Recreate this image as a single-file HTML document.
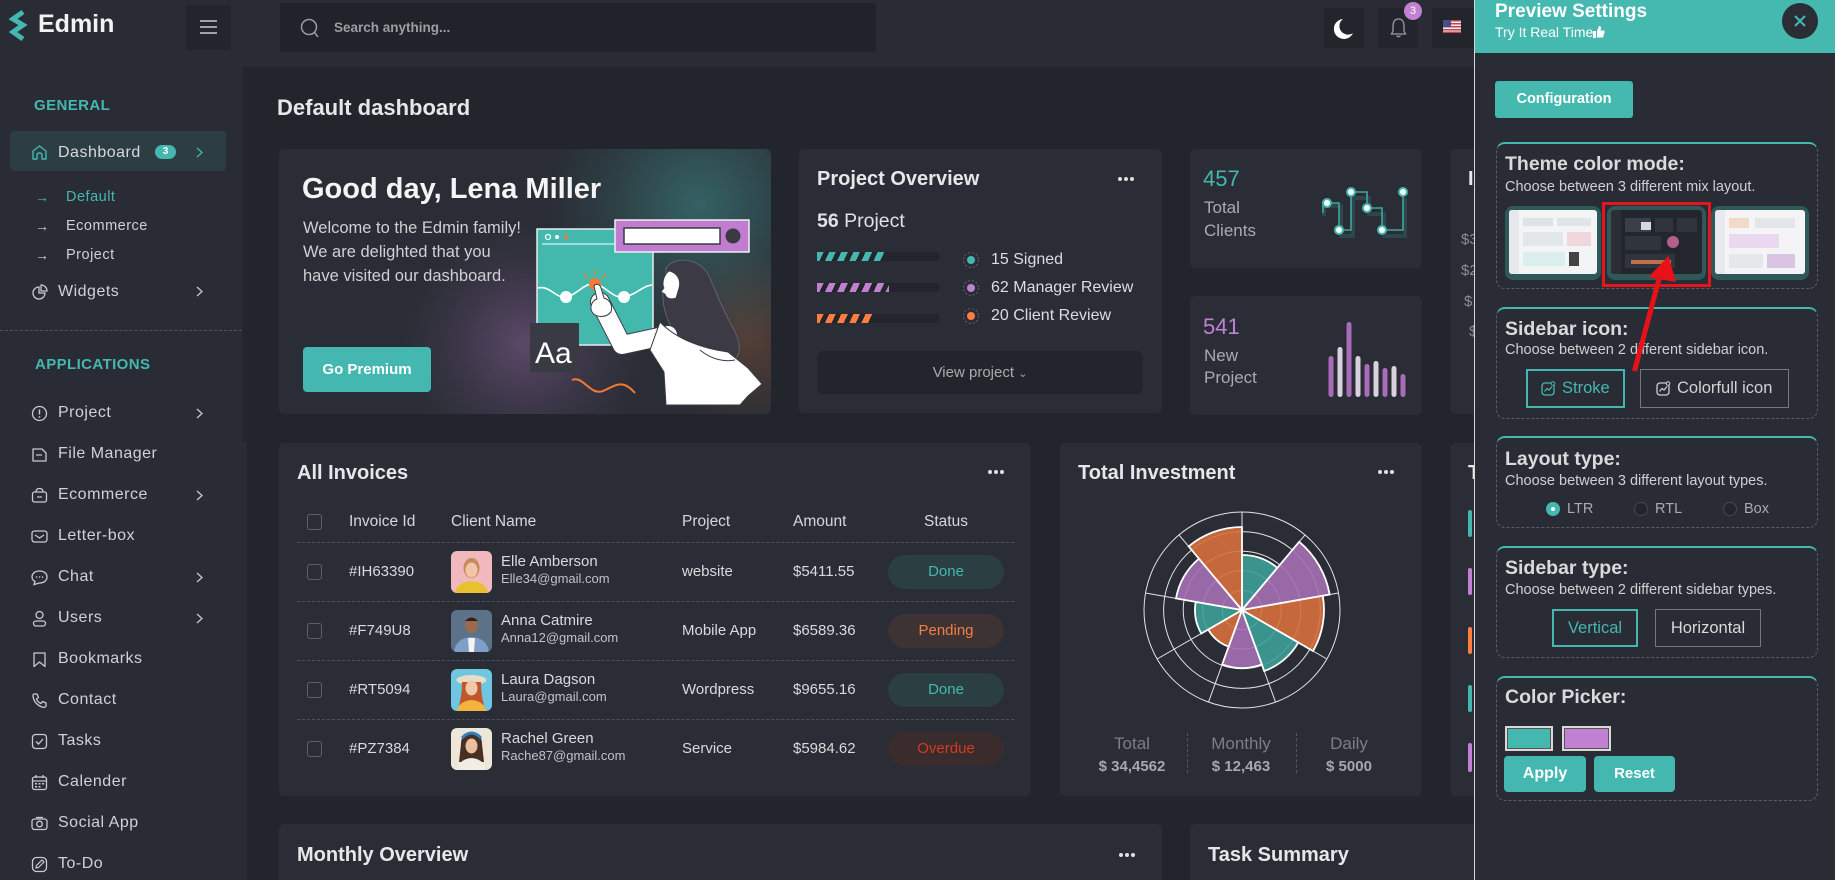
<!DOCTYPE html>
<html style="width:1835px;height:880px;overflow:hidden"><head><meta charset="utf-8">
<style>
*{box-sizing:border-box;margin:0;padding:0}
html,body{width:1835px;height:880px;overflow:hidden}
body{position:relative;background:#22252b;font-family:"Liberation Sans",sans-serif;color:#e2e3e5}
.a{position:absolute}
.card{position:absolute;background:#2a2d35;border-radius:5px}
.t{position:absolute;white-space:nowrap}
.si{position:absolute;left:58px;height:20px;line-height:20px;font-size:16px;letter-spacing:0.5px;color:#d0d1d4;white-space:nowrap}
.ic{position:absolute;left:31px;width:17px;height:17px}
.chev{position:absolute;left:196px;width:7px;height:11px}
.sec{position:absolute;left:1496px;width:322px;border:1px dashed #5b5e65;border-top:2px solid #45b8b0;border-radius:9px}
.st{position:absolute;left:1505px;font-size:19.5px;font-weight:bold;color:#d9dadc;white-space:nowrap;height:24px;line-height:24px}
.ss{position:absolute;left:1505px;font-size:14.5px;color:#cfd0d2;white-space:nowrap;height:18px;line-height:18px}
.th{position:absolute;font-size:15.5px;color:#d6d7d9;height:20px;line-height:20px;white-space:nowrap}
.td{position:absolute;font-size:15px;color:#d9dadc;height:20px;line-height:20px;white-space:nowrap}
.cb{position:absolute;left:307px;width:15px;height:16px;border:1.5px solid #5d6067;border-radius:3px}
.pill{position:absolute;left:888px;width:116px;height:34px;border-radius:17px;text-align:center;line-height:34px;font-size:15px}
.dl{position:absolute;left:297px;width:717px;border-top:1px dashed #4e5158}
.av{position:absolute;left:451px;width:41px;height:42px;border-radius:6px;overflow:hidden}
</style></head><body>

<!-- HEADER -->
<div class="a" style="left:0;top:0;width:1835px;height:67px;background:#292c34"></div>
<svg class="a" style="left:9px;top:10px" width="26" height="32" viewBox="0 0 26 32">
<path d="M14 2 L4 9 L14 15 L4 22 L14 29" fill="none" stroke="#44b8b0" stroke-width="5" stroke-linejoin="miter"/>
</svg>
<div class="t" style="left:38px;top:8px;font-size:25px;font-weight:bold;color:#f2f2f2;line-height:32px">Edmin</div>
<div class="a" style="left:186px;top:5px;width:45px;height:45px;background:#22252b"></div>
<svg class="a" style="left:200px;top:19px" width="17" height="16"><g stroke="#c8c9cc" stroke-width="1.6"><line x1="0" y1="2" x2="17" y2="2"/><line x1="0" y1="8" x2="17" y2="8"/><line x1="0" y1="14" x2="17" y2="14"/></g></svg>
<div class="a" style="left:280px;top:3px;width:596px;height:49px;background:#202329"></div>
<svg class="a" style="left:300px;top:18px" width="20" height="22"><circle cx="9" cy="9" r="7.5" fill="none" stroke="#9a9ca1" stroke-width="1.5"/><line x1="14.5" y1="14.5" x2="18" y2="19" stroke="#9a9ca1" stroke-width="1.5"/></svg>
<div class="t" style="left:334px;top:19px;font-size:13.5px;font-weight:bold;color:#9c9ea3;line-height:18px">Search anything...</div>
<div class="a" style="left:1324px;top:8px;width:40px;height:40px;background:#22252b"></div>
<svg class="a" style="left:1334px;top:18px" width="20" height="22"><path d="M9 1 A10 10 0 1 0 19 15 A8 8 0 0 1 9 1 Z" fill="#fff"/></svg>
<div class="a" style="left:1378px;top:8px;width:40px;height:40px;background:#22252b"></div>
<svg class="a" style="left:1390px;top:17px" width="17" height="22"><path d="M8.5 2 C4 2 3 6 3 9 L3 14 L1.5 17 L15.5 17 L14 14 L14 9 C14 6 13 2 8.5 2 Z" fill="none" stroke="#9a9ca1" stroke-width="1.3"/><path d="M6.5 18.5 Q8.5 21 10.5 18.5" fill="none" stroke="#9a9ca1" stroke-width="1.3"/></svg>
<div class="a" style="left:1404px;top:2px;width:18px;height:18px;border-radius:9px;background:#c280d2;color:#fff;font-size:11px;text-align:center;line-height:18px">3</div>
<div class="a" style="left:1432px;top:8px;width:42px;height:40px;background:#22252b"></div>
<svg class="a" style="left:1443px;top:20px" width="18" height="13"><rect width="18" height="13" fill="#eee"/><g fill="#c4444d"><rect y="0" width="18" height="1.5"/><rect y="3" width="18" height="1.5"/><rect y="6" width="18" height="1.5"/><rect y="9" width="18" height="1.5"/><rect y="11.5" width="18" height="1.5"/></g><rect width="8" height="7" fill="#44508a"/></svg>

<!-- SIDEBAR -->
<div class="a" style="left:0;top:67px;width:247px;height:813px;background:#292c34"></div>
<div class="a" style="left:242px;top:67px;width:5px;height:375px;background:#23262c"></div>
<div class="t" style="left:34px;top:97px;font-size:15px;font-weight:bold;color:#44b8b0;letter-spacing:0.4px;line-height:18px">GENERAL</div>
<div class="a" style="left:10px;top:131px;width:216px;height:40px;background:#2c3e43;border-radius:4px"></div>
<svg class="ic" style="top:144px" viewBox="0 0 17 17"><path d="M2 15 L2 7 L8.5 2 L15 7 L15 15 L11 15 L11 10 Q8.5 8 6 10 L6 15 Z" fill="none" stroke="#44b8b0" stroke-width="1.4" stroke-linejoin="round"/></svg>
<div class="si" style="top:143px;color:#d8d9dc">Dashboard</div>
<div class="a" style="left:155px;top:145px;width:21px;height:14px;border-radius:7px;background:#44b8b0;color:#fff;font-size:10px;font-weight:bold;text-align:center;line-height:14px">3</div>
<svg class="chev" style="top:147px" viewBox="0 0 7 11"><polyline points="1,1 6,5.5 1,10" fill="none" stroke="#44b8b0" stroke-width="1.3"/></svg>
<div class="t" style="left:35px;top:187px;font-size:14px;color:#44b8b0;line-height:20px">→</div>
<div class="t" style="left:66px;top:187px;font-size:14.5px;color:#44b8b0;letter-spacing:0.5px;line-height:20px">Default</div>
<div class="t" style="left:35px;top:216px;font-size:14px;color:#d0d1d4;line-height:20px">→</div>
<div class="t" style="left:66px;top:216px;font-size:14.5px;color:#d0d1d4;letter-spacing:0.5px;line-height:20px">Ecommerce</div>
<div class="t" style="left:35px;top:245px;font-size:14px;color:#d0d1d4;line-height:20px">→</div>
<div class="t" style="left:66px;top:245px;font-size:14.5px;color:#d0d1d4;letter-spacing:0.5px;line-height:20px">Project</div>
<svg class="ic" style="top:284px" viewBox="0 0 17 17"><path d="M8 3 A6 6 0 1 0 14 9 L8 9 Z" fill="none" stroke="#c9cacd" stroke-width="1.3"/><path d="M10 1 A6 6 0 0 1 16 7 L10 7 Z" fill="none" stroke="#c9cacd" stroke-width="1.3"/></svg>
<div class="si" style="top:282px">Widgets</div>
<svg class="chev" style="top:286px" viewBox="0 0 7 11"><polyline points="1,1 6,5.5 1,10" fill="none" stroke="#c9cacd" stroke-width="1.3"/></svg>
<div class="a" style="left:0;top:330px;width:242px;border-top:1px dashed #50535a"></div>
<div class="t" style="left:35px;top:356px;font-size:15px;font-weight:bold;color:#44b8b0;letter-spacing:0.4px;line-height:18px">APPLICATIONS</div>

<svg class="ic" style="top:405px" viewBox="0 0 17 17"><circle cx="8.5" cy="8.5" r="7" fill="none" stroke="#c9cacd" stroke-width="1.3"/><line x1="8.5" y1="4.5" x2="8.5" y2="9.5" stroke="#c9cacd" stroke-width="1.4"/><circle cx="8.5" cy="12" r="0.9" fill="#c9cacd"/></svg>
<div class="si" style="top:403px">Project</div>
<svg class="chev" style="top:408px" viewBox="0 0 7 11"><polyline points="1,1 6,5.5 1,10" fill="none" stroke="#c9cacd" stroke-width="1.3"/></svg>

<svg class="ic" style="top:446px" viewBox="0 0 17 17"><path d="M2 3 L11 3 L15 7 L15 15 L2 15 Z" fill="none" stroke="#c9cacd" stroke-width="1.3" stroke-linejoin="round"/><line x1="5" y1="9" x2="11" y2="9" stroke="#c9cacd" stroke-width="1.2"/></svg>
<div class="si" style="top:444px">File Manager</div>

<svg class="ic" style="top:487px" viewBox="0 0 17 17"><rect x="1.5" y="5" width="14" height="10" rx="2" fill="none" stroke="#c9cacd" stroke-width="1.3"/><path d="M5 5 Q5 1.5 8.5 1.5 Q12 1.5 12 5" fill="none" stroke="#c9cacd" stroke-width="1.3"/><line x1="6" y1="10" x2="11" y2="10" stroke="#c9cacd" stroke-width="1.2"/></svg>
<div class="si" style="top:485px">Ecommerce</div>
<svg class="chev" style="top:490px" viewBox="0 0 7 11"><polyline points="1,1 6,5.5 1,10" fill="none" stroke="#c9cacd" stroke-width="1.3"/></svg>

<svg class="ic" style="top:528px" viewBox="0 0 17 17"><rect x="1" y="3" width="15" height="11" rx="2.5" fill="none" stroke="#c9cacd" stroke-width="1.3"/><polyline points="4,7 8.5,10 13,7" fill="none" stroke="#c9cacd" stroke-width="1.2"/></svg>
<div class="si" style="top:526px">Letter-box</div>

<svg class="ic" style="top:569px" viewBox="0 0 17 17"><path d="M8.5 2 C13 2 16 4.5 16 8 C16 11.5 13 14 8.5 14 L3 15.5 L4 12.5 C2 11.5 1 10 1 8 C1 4.5 4 2 8.5 2 Z" fill="none" stroke="#c9cacd" stroke-width="1.3"/><g fill="#c9cacd"><circle cx="5.5" cy="8" r="0.8"/><circle cx="8.5" cy="8" r="0.8"/><circle cx="11.5" cy="8" r="0.8"/></g></svg>
<div class="si" style="top:567px">Chat</div>
<svg class="chev" style="top:572px" viewBox="0 0 7 11"><polyline points="1,1 6,5.5 1,10" fill="none" stroke="#c9cacd" stroke-width="1.3"/></svg>

<svg class="ic" style="top:610px" viewBox="0 0 17 17"><circle cx="8.5" cy="5" r="3.5" fill="none" stroke="#c9cacd" stroke-width="1.3"/><rect x="2.5" y="11" width="12" height="5" rx="2.5" fill="none" stroke="#c9cacd" stroke-width="1.3"/></svg>
<div class="si" style="top:608px">Users</div>
<svg class="chev" style="top:613px" viewBox="0 0 7 11"><polyline points="1,1 6,5.5 1,10" fill="none" stroke="#c9cacd" stroke-width="1.3"/></svg>

<svg class="ic" style="top:651px" viewBox="0 0 17 17"><path d="M3 2 L14 2 L14 15.5 L8.5 11 L3 15.5 Z" fill="none" stroke="#c9cacd" stroke-width="1.3" stroke-linejoin="round"/></svg>
<div class="si" style="top:649px">Bookmarks</div>

<svg class="ic" style="top:692px" viewBox="0 0 17 17"><path d="M3 2 L6 2 L7.5 5.5 L5.5 7 Q7 10.5 10 11.5 L11.5 9.5 L15 11 L15 14 Q14 16 11 15 Q3 12 2 4 Q2 2 3 2 Z" fill="none" stroke="#c9cacd" stroke-width="1.3" stroke-linejoin="round"/></svg>
<div class="si" style="top:690px">Contact</div>

<svg class="ic" style="top:733px" viewBox="0 0 17 17"><rect x="1.5" y="1.5" width="14" height="14" rx="3" fill="none" stroke="#c9cacd" stroke-width="1.3"/><polyline points="5,8.5 7.5,11 12,6" fill="none" stroke="#c9cacd" stroke-width="1.3"/></svg>
<div class="si" style="top:731px">Tasks</div>

<svg class="ic" style="top:774px" viewBox="0 0 17 17"><rect x="1.5" y="3" width="14" height="12.5" rx="2" fill="none" stroke="#c9cacd" stroke-width="1.3"/><line x1="1.5" y1="7" x2="15.5" y2="7" stroke="#c9cacd" stroke-width="1.2"/><line x1="5" y1="1" x2="5" y2="4" stroke="#c9cacd" stroke-width="1.3"/><line x1="12" y1="1" x2="12" y2="4" stroke="#c9cacd" stroke-width="1.3"/><g fill="#c9cacd"><rect x="4" y="9" width="2" height="1.5"/><rect x="7.5" y="9" width="2" height="1.5"/><rect x="11" y="9" width="2" height="1.5"/><rect x="4" y="12" width="2" height="1.5"/><rect x="7.5" y="12" width="2" height="1.5"/></g></svg>
<div class="si" style="top:772px">Calender</div>

<svg class="ic" style="top:815px" viewBox="0 0 17 17"><rect x="1" y="4" width="15" height="10.5" rx="2.5" fill="none" stroke="#c9cacd" stroke-width="1.3"/><circle cx="8.5" cy="9" r="2.8" fill="none" stroke="#c9cacd" stroke-width="1.3"/><line x1="5" y1="2.5" x2="12" y2="2.5" stroke="#c9cacd" stroke-width="1.3"/></svg>
<div class="si" style="top:813px">Social App</div>

<svg class="ic" style="top:856px" viewBox="0 0 17 17"><rect x="1.5" y="1.5" width="14" height="14" rx="4" fill="none" stroke="#c9cacd" stroke-width="1.3"/><path d="M5 12 L5.5 9.5 L11 4 L13 6 L7.5 11.5 Z" fill="none" stroke="#c9cacd" stroke-width="1.2"/></svg>
<div class="si" style="top:854px">To-Do</div>

<!-- CONTENT -->
<div class="t" style="left:277px;top:95px;font-size:22px;font-weight:bold;color:#e6e7e9;line-height:26px">Default dashboard</div>

<!-- Welcome card -->
<div class="card" style="left:279px;top:149px;width:492px;height:265px;overflow:hidden;background:
radial-gradient(circle at 420px 55px, rgba(68,184,176,0.38) 0px, rgba(68,184,176,0.12) 90px, rgba(68,184,176,0) 150px),
radial-gradient(circle at 245px 195px, rgba(192,128,210,0.32) 0px, rgba(192,128,210,0.1) 70px, rgba(192,128,210,0) 120px),
radial-gradient(circle at 470px 190px, rgba(230,120,60,0.22) 0px, rgba(230,120,60,0) 90px),
#2a2d35"></div>
<div class="t" style="left:302px;top:171px;font-size:29px;font-weight:bold;color:#f4f4f4;line-height:36px">Good day, Lena Miller</div>
<div class="t" style="left:303px;top:216px;font-size:16.5px;color:#cfd0d3;line-height:24px">Welcome to the Edmin family!<br>We are delighted that you<br>have visited our dashboard.</div>
<div class="a" style="left:303px;top:347px;width:128px;height:45px;background:#44b8b0;border-radius:4px;color:#fff;font-size:15px;font-weight:bold;text-align:center;line-height:45px">Go Premium</div>

<!-- Project overview -->
<div class="card" style="left:799px;top:149px;width:363px;height:264px"></div>
<div class="t" style="left:817px;top:167px;font-size:20px;font-weight:bold;color:#e6e7e9;line-height:24px">Project Overview</div>
<svg class="a" style="left:1117px;top:176px" width="18" height="6"><g fill="#e0e0e0"><circle cx="3" cy="3" r="2"/><circle cx="9" cy="3" r="2"/><circle cx="15" cy="3" r="2"/></g></svg>
<div class="t" style="left:817px;top:209px;font-size:19.5px;color:#e0e1e3;line-height:24px"><b>56</b> Project</div>
<div class="a" style="left:817px;top:252px;width:122px;height:9px;background:#22252b;border-radius:2px"></div>
<div class="a" style="left:817px;top:252px;width:67px;height:9px;background:repeating-linear-gradient(115deg,#44b8b0 0px,#44b8b0 6px,transparent 6px,transparent 11px)"></div>
<div class="a" style="left:817px;top:283px;width:122px;height:9px;background:#22252b;border-radius:2px"></div>
<div class="a" style="left:817px;top:283px;width:72px;height:9px;background:repeating-linear-gradient(115deg,#c280d2 0px,#c280d2 6px,transparent 6px,transparent 11px)"></div>
<div class="a" style="left:817px;top:314px;width:122px;height:9px;background:#22252b;border-radius:2px"></div>
<div class="a" style="left:817px;top:314px;width:55px;height:9px;background:repeating-linear-gradient(115deg,#fd7e40 0px,#fd7e40 6px,transparent 6px,transparent 11px)"></div>
<svg class="a" style="left:962px;top:251px" width="18" height="74">
<circle cx="9" cy="9" r="7.5" fill="none" stroke="#5e6168" stroke-dasharray="2 2"/><circle cx="9" cy="9" r="4" fill="#44b8b0"/>
<circle cx="9" cy="37" r="7.5" fill="none" stroke="#5e6168" stroke-dasharray="2 2"/><circle cx="9" cy="37" r="4" fill="#c280d2"/>
<circle cx="9" cy="65" r="7.5" fill="none" stroke="#5e6168" stroke-dasharray="2 2"/><circle cx="9" cy="65" r="4" fill="#fd7e40"/>
</svg>
<div class="t" style="left:991px;top:250px;font-size:16px;color:#dcdde0;line-height:20px">15 Signed</div>
<div class="t" style="left:991px;top:278px;font-size:16px;color:#dcdde0;line-height:20px">62 Manager Review</div>
<div class="t" style="left:991px;top:306px;font-size:16px;color:#dcdde0;line-height:20px">20 Client Review</div>
<div class="a" style="left:817px;top:351px;width:326px;height:43px;background:#22252b;border-radius:6px;text-align:center;line-height:43px;font-size:15px;color:#a9abaf">View project <span style="font-size:11px">&#8964;</span></div>

<!-- Total clients -->
<div class="card" style="left:1190px;top:149px;width:232px;height:119px"></div>
<div class="t" style="left:1203px;top:166px;font-size:22px;color:#44b8b0;line-height:26px">457</div>
<div class="t" style="left:1204px;top:197px;font-size:17px;color:#a9abaf;line-height:22px">Total</div>
<div class="t" style="left:1204px;top:220px;font-size:17px;color:#a9abaf;line-height:22px">Clients</div>
<div class="card" style="left:1190px;top:296px;width:232px;height:119px"></div>
<div class="t" style="left:1203px;top:314px;font-size:22px;color:#c280d2;line-height:26px">541</div>
<div class="t" style="left:1204px;top:345px;font-size:17px;color:#a9abaf;line-height:22px">New</div>
<div class="t" style="left:1204px;top:367px;font-size:17px;color:#a9abaf;line-height:22px">Project</div>

<!-- partial right cards -->
<div class="card" style="left:1450px;top:149px;width:200px;height:265px"></div>
<div class="t" style="left:1468px;top:167px;font-size:20px;font-weight:bold;color:#e6e7e9;line-height:24px">Income</div>
<div class="t" style="left:1461px;top:231px;font-size:15px;color:#8c8e93;line-height:18px">$3</div>
<div class="t" style="left:1461px;top:262px;font-size:15px;color:#8c8e93;line-height:18px">$2</div>
<div class="t" style="left:1464px;top:293px;font-size:15px;color:#8c8e93;line-height:18px">$1</div>
<div class="t" style="left:1469px;top:323px;font-size:15px;color:#8c8e93;line-height:18px">$</div>

<!-- Invoices -->
<div class="card" style="left:279px;top:443px;width:752px;height:353px"></div>
<div class="t" style="left:297px;top:461px;font-size:20px;font-weight:bold;color:#e6e7e9;line-height:24px">All Invoices</div>
<svg class="a" style="left:987px;top:469px" width="18" height="6"><g fill="#e0e0e0"><circle cx="3" cy="3" r="2"/><circle cx="9" cy="3" r="2"/><circle cx="15" cy="3" r="2"/></g></svg>
<div class="cb" style="top:514px"></div>
<div class="th" style="left:349px;top:512px">Invoice Id</div>
<div class="th" style="left:451px;top:512px">Client Name</div>
<div class="th" style="left:682px;top:512px">Project</div>
<div class="th" style="left:793px;top:512px">Amount</div>
<div class="th" style="left:888px;top:512px;width:116px;text-align:center">Status</div>
<div class="dl" style="top:542px"></div>
<div class="dl" style="top:601px"></div>
<div class="dl" style="top:660px"></div>
<div class="dl" style="top:719px"></div>

<div class="cb" style="top:564px"></div>
<div class="td" style="left:349px;top:562px">#IH63390</div>
<div class="av" style="top:551px;background:#f1b8bd"><svg width="41" height="42"><ellipse cx="20.5" cy="17" rx="8" ry="10" fill="#c98a5a"/><ellipse cx="20.5" cy="19" rx="6" ry="7.5" fill="#f0c6a8"/><path d="M4 42 Q6 31 20.5 30 Q35 31 37 42 Z" fill="#e9c12f"/></svg></div>
<div class="td" style="left:501px;top:552px">Elle Amberson</div>
<div class="td" style="left:501px;top:569px;font-size:13px;color:#c2c3c6">Elle34@gmail.com</div>
<div class="td" style="left:682px;top:562px">website</div>
<div class="td" style="left:793px;top:562px">$5411.55</div>
<div class="pill" style="top:555px;background:#2b3e41;color:#44b8b0">Done</div>

<div class="cb" style="top:623px"></div>
<div class="td" style="left:349px;top:621px">#F749U8</div>
<div class="av" style="top:610px;background:#5b7289"><svg width="41" height="42"><ellipse cx="20.5" cy="15" rx="6.5" ry="8" fill="#9a6a4e"/><path d="M14 11 Q20.5 4 27 11" fill="#2a2220"/><path d="M3 42 Q5 28 20.5 27 Q36 28 38 42 Z" fill="#7f9fc9"/><path d="M17 28 L24 28 L23 42 L18 42 Z" fill="#f4f4f4"/></svg></div>
<div class="td" style="left:501px;top:611px">Anna Catmire</div>
<div class="td" style="left:501px;top:628px;font-size:13px;color:#c2c3c6">Anna12@gmail.com</div>
<div class="td" style="left:682px;top:621px">Mobile App</div>
<div class="td" style="left:793px;top:621px">$6589.36</div>
<div class="pill" style="top:614px;background:#3d3334;color:#f47e44">Pending</div>

<div class="cb" style="top:682px"></div>
<div class="td" style="left:349px;top:680px">#RT5094</div>
<div class="av" style="top:669px;background:#6fc6e0"><svg width="41" height="42"><ellipse cx="20.5" cy="11" rx="15" ry="5" fill="#e9dcc4"/><path d="M11 13 Q11 26 8 36 L33 36 Q30 26 30 13 Z" fill="#c0562c"/><ellipse cx="20.5" cy="19" rx="6" ry="7.5" fill="#f1c7a9"/><path d="M6 42 Q8 32 20.5 31 Q33 32 35 42 Z" fill="#f3b33d"/></svg></div>
<div class="td" style="left:501px;top:670px">Laura Dagson</div>
<div class="td" style="left:501px;top:687px;font-size:13px;color:#c2c3c6">Laura@gmail.com</div>
<div class="td" style="left:682px;top:680px">Wordpress</div>
<div class="td" style="left:793px;top:680px">$9655.16</div>
<div class="pill" style="top:673px;background:#2b3e41;color:#44b8b0">Done</div>

<div class="cb" style="top:741px"></div>
<div class="td" style="left:349px;top:739px">#PZ7384</div>
<div class="av" style="top:728px;background:#efe6da"><svg width="41" height="42"><path d="M10 16 Q10 5 20.5 5 Q31 5 31 16 L33 34 L8 34 Z" fill="#4a3022"/><path d="M11 10 Q20.5 0 30 10" fill="none" stroke="#2f7fc3" stroke-width="3"/><ellipse cx="20.5" cy="18" rx="6" ry="7.5" fill="#e9bfa0"/><path d="M6 42 Q8 31 20.5 30 Q33 31 35 42 Z" fill="#f2ede4"/></svg></div>
<div class="td" style="left:501px;top:729px">Rachel Green</div>
<div class="td" style="left:501px;top:746px;font-size:13px;color:#c2c3c6">Rache87@gmail.com</div>
<div class="td" style="left:682px;top:739px">Service</div>
<div class="td" style="left:793px;top:739px">$5984.62</div>
<div class="pill" style="top:732px;background:#3a2b2d;color:#d13b1e">Overdue</div>

<!-- Total Investment -->
<div class="card" style="left:1060px;top:443px;width:362px;height:353px"></div>
<div class="t" style="left:1078px;top:461px;font-size:20px;font-weight:bold;color:#e6e7e9;line-height:24px">Total Investment</div>
<svg class="a" style="left:1377px;top:469px" width="18" height="6"><g fill="#e0e0e0"><circle cx="3" cy="3" r="2"/><circle cx="9" cy="3" r="2"/><circle cx="15" cy="3" r="2"/></g></svg>
<div class="t" style="left:1082px;top:733px;width:100px;text-align:center;font-size:17px;color:#7c7e83;line-height:22px">Total</div>
<div class="t" style="left:1082px;top:757px;width:100px;text-align:center;font-size:15px;font-weight:bold;color:#a6a8ac;line-height:20px">$ 34,4562</div>
<div class="t" style="left:1191px;top:733px;width:100px;text-align:center;font-size:17px;color:#7c7e83;line-height:22px">Monthly</div>
<div class="t" style="left:1191px;top:757px;width:100px;text-align:center;font-size:15px;font-weight:bold;color:#a6a8ac;line-height:20px">$ 12,463</div>
<div class="t" style="left:1299px;top:733px;width:100px;text-align:center;font-size:17px;color:#7c7e83;line-height:22px">Daily</div>
<div class="t" style="left:1299px;top:757px;width:100px;text-align:center;font-size:15px;font-weight:bold;color:#a6a8ac;line-height:20px">$ 5000</div>
<div class="a" style="left:1187px;top:733px;height:40px;border-left:1px dashed #55585e"></div>
<div class="a" style="left:1296px;top:733px;height:40px;border-left:1px dashed #55585e"></div>

<div class="card" style="left:1450px;top:443px;width:200px;height:353px"></div>
<div class="t" style="left:1468px;top:461px;font-size:20px;font-weight:bold;color:#e6e7e9;line-height:24px">Top</div>
<div class="a" style="left:1468px;top:510px;width:4px;height:27px;border-radius:2px;background:#44b8b0"></div>
<div class="a" style="left:1468px;top:568px;width:4px;height:27px;border-radius:2px;background:#c280d2"></div>
<div class="a" style="left:1468px;top:627px;width:4px;height:27px;border-radius:2px;background:#fd7e40"></div>
<div class="a" style="left:1468px;top:685px;width:4px;height:27px;border-radius:2px;background:#44b8b0"></div>
<div class="a" style="left:1468px;top:743px;width:4px;height:29px;border-radius:2px;background:#c280d2"></div>

<!-- bottom cards -->
<div class="card" style="left:279px;top:824px;width:883px;height:56px;border-radius:5px 5px 0 0"></div>
<div class="t" style="left:297px;top:843px;font-size:20px;font-weight:bold;color:#e6e7e9;line-height:24px">Monthly Overview</div>
<svg class="a" style="left:1118px;top:852px" width="18" height="6"><g fill="#e0e0e0"><circle cx="3" cy="3" r="2"/><circle cx="9" cy="3" r="2"/><circle cx="15" cy="3" r="2"/></g></svg>
<div class="card" style="left:1190px;top:824px;width:284px;height:56px;border-radius:5px 0 0 0"></div>
<div class="t" style="left:1208px;top:843px;font-size:20px;font-weight:bold;color:#e6e7e9;line-height:24px">Task Summary</div>

<!-- GRAPHICS OVERLAY -->
<svg class="a" style="left:0;top:0" width="1835" height="880" viewBox="0 0 1835 880">
<rect x="537" y="229" width="116" height="116" fill="#43b8ad" stroke="#e8ecec" stroke-width="1.5"/>
<circle cx="548" cy="237" r="2.5" fill="none" stroke="#fff" stroke-width="1.2"/>
<circle cx="557" cy="237" r="2" fill="#fff"/>
<circle cx="566" cy="237" r="2" fill="#f57a35"/>
<line x1="542" y1="244" x2="616" y2="244" stroke="#fff" stroke-width="1"/>
<path d="M538,288 C550,285 556,299 566,297 C577,295 585,282 595,284 C606,286 613,299 624,297 C636,295 642,286 652,285" fill="none" stroke="#fff" stroke-width="1.6"/>
<circle cx="566" cy="297" r="6" fill="#fff"/>
<circle cx="624" cy="297" r="6" fill="#fff"/>
<circle cx="595" cy="284" r="6" fill="#f57a35"/>
<g stroke="#f57a35" stroke-width="1.5"><line x1="595" y1="270" x2="595" y2="275"/><line x1="584" y1="274" x2="588" y2="278"/><line x1="606" y1="274" x2="602" y2="278"/></g>
<rect x="615" y="220" width="134" height="32" fill="#c07dd0" stroke="#f0f0f0" stroke-width="1.5"/>
<rect x="624" y="228" width="96" height="16" fill="#fff" stroke="#3a3a45" stroke-width="1.5"/>
<circle cx="733" cy="236" r="7.5" fill="#3a3a45"/>
<rect x="530" y="323" width="49" height="49" fill="#3a3a45"/>
<text x="535" y="363" font-family="Liberation Sans, sans-serif" font-size="30" fill="#fff">Aa</text>
<path d="M572,380 C583,375 590,396 603,391 C615,386 622,378 635,393" fill="none" stroke="#f57a35" stroke-width="2"/>
<!-- person -->
<path d="M666,268 C674,256 700,257 709,276 C717,295 724,312 734,330 C742,346 741,357 731,361 L700,352 C686,345 673,334 668,320 C662,305 661,290 666,280 Z" fill="#3b3a45" stroke="#6a6973" stroke-width="0.8"/>
<path d="M669,271 C663,276 662,284 664,288 L661,292 L665,294 C666,298 670,300 676,298 L679,288 C681,281 678,273 669,271 Z" fill="#fff" stroke="#3a3a45" stroke-width="0.8"/>
<path d="M600,302 L622,345 L668,335" fill="none" stroke="#3a3a45" stroke-width="20" stroke-linejoin="round" stroke-linecap="round"/>
<path d="M600,302 L622,345 L668,335" fill="none" stroke="#fff" stroke-width="18" stroke-linejoin="round" stroke-linecap="round"/>
<path d="M594,286 C596,283 600,284 601,288 L604,298 C610,300 613,305 611,312 C606,318 596,318 592,312 C589,306 593,300 597,299 Z" fill="#fff" stroke="#3a3a45" stroke-width="1"/>
<path d="M660,322 C675,338 700,348 728,352 L748,368 L762,384 L748,396 L740,405 L666,405 L664,372 L650,350 Z" fill="#fff" stroke="#3a3a45" stroke-width="1"/>
<path d="M700,350 C712,360 725,362 735,360" fill="none" stroke="#3a3a45" stroke-width="1"/>

<!-- step chart -->
<polyline points="1324,216 1324,206 1329,206 1341,206 1341,236 1353,236 1353,198 1369,198 1369,214 1384,214 1384,236 1405,236 1405,198" fill="none" stroke="#44b8b0" stroke-opacity="0.18" stroke-width="4"/>
<polyline points="1323,213 1323,203 1339,203 1339,230 1351,230 1351,192 1367,192 1367,208 1382,208 1382,230 1403,230 1403,192" fill="none" stroke="#3fa79f" stroke-width="1.6"/>
<g fill="#fff" stroke="#44b8b0" stroke-width="2">
<circle cx="1327" cy="203" r="4"/><circle cx="1339" cy="230" r="4"/><circle cx="1351" cy="192" r="4"/><circle cx="1367" cy="208" r="4"/><circle cx="1382" cy="230" r="4"/><circle cx="1403" cy="192" r="4"/>
</g>
<g>
<rect x="1328.5" y="356" width="5" height="41" rx="2.5" fill="#a86cba"/>
<rect x="1337.5" y="347" width="5" height="50" rx="2.5" fill="#d9d0e0"/>
<rect x="1346.5" y="322" width="5" height="75" rx="2.5" fill="#a86cba"/>
<rect x="1355.5" y="356" width="5" height="41" rx="2.5" fill="#d9d0e0"/>
<rect x="1364.5" y="364" width="5" height="33" rx="2.5" fill="#a86cba"/>
<rect x="1373.5" y="361" width="5" height="36" rx="2.5" fill="#d9d0e0"/>
<rect x="1382.5" y="368" width="5" height="29" rx="2.5" fill="#a86cba"/>
<rect x="1391.5" y="366" width="5" height="31" rx="2.5" fill="#d9d0e0"/>
<rect x="1400.5" y="374" width="5" height="23" rx="2.5" fill="#a86cba"/>
</g>

<!-- polar chart -->
<g fill="none" stroke="#e4e4e4" stroke-width="1">
<circle cx="1242" cy="610" r="98"/><circle cx="1242" cy="610" r="78.4"/><circle cx="1242" cy="610" r="58.8"/><circle cx="1242" cy="610" r="39.2"/><circle cx="1242" cy="610" r="19.6"/>
<line x1="1242" y1="610" x2="1242" y2="512"/>
<line x1="1242" y1="610" x2="1304.99" y2="534.93"/>
<line x1="1242" y1="610" x2="1338.51" y2="592.98"/>
<line x1="1242" y1="610" x2="1326.87" y2="659"/>
<line x1="1242" y1="610" x2="1275.52" y2="702.09"/>
<line x1="1242" y1="610" x2="1208.48" y2="702.09"/>
<line x1="1242" y1="610" x2="1157.13" y2="659"/>
<line x1="1242" y1="610" x2="1145.49" y2="592.98"/>
<line x1="1242" y1="610" x2="1179.01" y2="534.93"/>
</g>
<g stroke="#fff" stroke-width="1.8" fill-opacity="0.9">
<path d="M1242,610 L1242,555 A55,55 0 0 1 1277.35,567.87 Z" fill="#3d9f97"/>
<path d="M1242,610 L1299.21,541.82 A89,89 0 0 1 1329.65,594.55 Z" fill="#a46fb4"/>
<path d="M1242,610 L1322.75,595.76 A82,82 0 0 1 1313.01,651 Z" fill="#d6703d"/>
<path d="M1242,610 L1298.29,642.5 A65,65 0 0 1 1264.23,671.08 Z" fill="#3d9f97"/>
<path d="M1242,610 L1261.84,664.5 A58,58 0 0 1 1222.16,664.5 Z" fill="#a46fb4"/>
<path d="M1242,610 L1228.66,646.65 A39,39 0 0 1 1208.23,629.5 Z" fill="#d6703d"/>
<path d="M1242,610 L1201.30,633.5 A47,47 0 0 1 1195.71,601.84 Z" fill="#3d9f97"/>
<path d="M1242,610 L1176.02,598.37 A67,67 0 0 1 1198.93,558.68 Z" fill="#a46fb4"/>
<path d="M1242,610 L1188.65,546.42 A83,83 0 0 1 1242,527 Z" fill="#d6703d"/>
</g>
</svg>

<!-- SETTINGS PANEL -->
<div class="a" style="left:1474px;top:0;width:361px;height:880px;background:#292c34;border-left:1px solid #d5d6d8"></div>
<div class="a" style="left:1475px;top:0;width:360px;height:53px;background:#45b8b0"></div>
<div class="t" style="left:1495px;top:1px;font-size:19px;font-weight:bold;color:#fff;line-height:22px">Preview Settings</div>
<div class="t" style="left:1495px;top:23px;font-size:14px;color:#fff;line-height:18px">Try It Real Time<svg width="12" height="12" style="vertical-align:-1px"><rect x="0" y="5" width="3" height="7" fill="#fff"/><path d="M4 5 L6 0 Q8 0 8 2 L7.5 4.5 L11 4.5 Q12 5 11.5 6.5 L10 11.5 L4 11.5 Z" fill="#fff"/></svg></div>
<div class="a" style="left:1782px;top:3px;width:36px;height:36px;border-radius:18px;background:#2a2d35"></div>
<svg class="a" style="left:1794px;top:15px" width="12" height="12"><g stroke="#45b8b0" stroke-width="2"><line x1="1" y1="1" x2="11" y2="11"/><line x1="11" y1="1" x2="1" y2="11"/></g></svg>
<div class="a" style="left:1495px;top:81px;width:138px;height:37px;background:#45b8b0;border-radius:3px;color:#fff;font-size:14.5px;font-weight:bold;text-align:center;line-height:37px">Configuration</div>

<div class="sec" style="top:142px;height:147px"></div>
<div class="st" style="top:152px">Theme color mode:</div>
<div class="ss" style="top:178px">Choose between 3 different mix layout.</div>
<div class="a" style="left:1505px;top:206px;width:96px;height:74px;background:#2f5859;border-radius:8px"></div>
<div class="a" style="left:1509px;top:210px;width:88px;height:64px;background:#f3f4f6;border-radius:3px;overflow:hidden">
 <div class="a" style="left:0;top:0;width:10px;height:64px;background:#e6e8eb"></div>
 <div class="a" style="left:14px;top:8px;width:30px;height:8px;background:#dfe3e6"></div>
 <div class="a" style="left:48px;top:8px;width:34px;height:8px;background:#e2e5e8"></div>
 <div class="a" style="left:14px;top:22px;width:40px;height:14px;background:#e4e7ea"></div>
 <div class="a" style="left:58px;top:22px;width:24px;height:14px;background:#f1d6dc"></div>
 <div class="a" style="left:14px;top:42px;width:42px;height:14px;background:#dbeeed"></div>
 <div class="a" style="left:60px;top:42px;width:10px;height:14px;background:#444"></div>
</div>
<div class="a" style="left:1607px;top:206px;width:99px;height:74px;background:#2f5859;border-radius:8px"></div>
<div class="a" style="left:1611px;top:210px;width:91px;height:64px;background:#23262c;border-radius:3px;overflow:hidden">
 <div class="a" style="left:0;top:0;width:10px;height:64px;background:#2b2e35"></div>
 <div class="a" style="left:14px;top:8px;width:26px;height:14px;background:#3a3f4a"></div>
 <div class="a" style="left:30px;top:12px;width:10px;height:8px;background:#d8d8e0"></div>
 <div class="a" style="left:44px;top:8px;width:18px;height:14px;background:#30343c"></div>
 <div class="a" style="left:66px;top:8px;width:20px;height:14px;background:#30343c"></div>
 <div class="a" style="left:14px;top:26px;width:36px;height:14px;background:#30343c"></div>
 <div class="a" style="left:56px;top:26px;width:12px;height:12px;border-radius:6px;background:#b0608a"></div>
 <div class="a" style="left:14px;top:44px;width:50px;height:14px;background:#30343c"></div>
 <div class="a" style="left:20px;top:50px;width:40px;height:4px;background:#c07048"></div>
</div>
<div class="a" style="left:1711px;top:206px;width:98px;height:74px;background:#2f5859;border-radius:8px"></div>
<div class="a" style="left:1715px;top:210px;width:90px;height:64px;background:#f4f4f7;border-radius:3px;overflow:hidden">
 <div class="a" style="left:0;top:0;width:10px;height:64px;background:#e8e9ee"></div>
 <div class="a" style="left:14px;top:8px;width:20px;height:10px;background:#f2d9c8"></div>
 <div class="a" style="left:40px;top:8px;width:40px;height:10px;background:#e5e6ea"></div>
 <div class="a" style="left:14px;top:24px;width:50px;height:14px;background:#e9d8ef"></div>
 <div class="a" style="left:14px;top:44px;width:34px;height:14px;background:#e6e7ea"></div>
 <div class="a" style="left:52px;top:44px;width:28px;height:14px;background:#d9c4e4"></div>
</div>
<div class="a" style="left:1602px;top:202px;width:109px;height:85px;border:3px solid #e4151c"></div>

<div class="sec" style="top:307px;height:112px"></div>
<div class="st" style="top:317px">Sidebar icon:</div>
<div class="ss" style="top:341px">Choose between 2 different sidebar icon.</div>
<div class="a" style="left:1526px;top:369px;width:99px;height:39px;border:2px solid #44b8b0"></div>
<svg class="a" style="left:1541px;top:381px" width="15" height="15"><rect x="1" y="2" width="12" height="12" rx="3" fill="none" stroke="#44b8b0" stroke-width="1.3"/><polyline points="3.5,10.5 6,7.5 8,9 11,5.5" fill="none" stroke="#44b8b0" stroke-width="1.2"/><circle cx="12" cy="2.5" r="1.8" fill="#292c34" stroke="#44b8b0" stroke-width="1"/></svg>
<div class="t" style="left:1562px;top:378px;font-size:16.5px;color:#44b8b0;line-height:20px">Stroke</div>
<div class="a" style="left:1640px;top:369px;width:149px;height:39px;border:1px solid #75787e"></div>
<svg class="a" style="left:1656px;top:381px" width="15" height="15"><rect x="1" y="2" width="12" height="12" rx="3" fill="none" stroke="#cfd0d2" stroke-width="1.3"/><polyline points="3.5,10.5 6,7.5 8,9 11,5.5" fill="none" stroke="#cfd0d2" stroke-width="1.2"/><circle cx="12" cy="2.5" r="1.8" fill="#292c34" stroke="#cfd0d2" stroke-width="1"/></svg>
<div class="t" style="left:1677px;top:378px;font-size:16.5px;color:#d2d3d5;line-height:20px">Colorfull icon</div>

<div class="sec" style="top:436px;height:92px"></div>
<div class="st" style="top:447px">Layout type:</div>
<div class="ss" style="top:472px">Choose between 3 different layout types.</div>
<div class="a" style="left:1546px;top:502px;width:14px;height:14px;border-radius:7px;background:#44b8b0"></div>
<div class="a" style="left:1551px;top:507px;width:4px;height:4px;border-radius:2px;background:#fff"></div>
<div class="t" style="left:1567px;top:500px;font-size:14.5px;color:#a9abaf;line-height:18px">LTR</div>
<div class="a" style="left:1634px;top:502px;width:14px;height:14px;border-radius:7px;background:#22252b;border:1px solid #44474e"></div>
<div class="t" style="left:1655px;top:500px;font-size:14.5px;color:#a9abaf;line-height:18px">RTL</div>
<div class="a" style="left:1723px;top:502px;width:14px;height:14px;border-radius:7px;background:#22252b;border:1px solid #44474e"></div>
<div class="t" style="left:1744px;top:500px;font-size:14.5px;color:#a9abaf;line-height:18px">Box</div>

<div class="sec" style="top:546px;height:112px"></div>
<div class="st" style="top:556px">Sidebar type:</div>
<div class="ss" style="top:581px">Choose between 2 different sidebar types.</div>
<div class="a" style="left:1552px;top:609px;width:86px;height:38px;border:2px solid #44b8b0;color:#44b8b0;font-size:16.5px;text-align:center;line-height:34px">Vertical</div>
<div class="a" style="left:1655px;top:609px;width:106px;height:38px;border:1px solid #75787e;color:#d8d9db;font-size:16.5px;text-align:center;line-height:36px">Horizontal</div>

<div class="sec" style="top:676px;height:125px"></div>
<div class="st" style="top:685px">Color Picker:</div>
<div class="a" style="left:1505px;top:726px;width:48px;height:25px;border:2px solid #d8d8d8;background:#44b8b0;box-shadow:inset 0 0 0 1px #555"></div>
<div class="a" style="left:1562px;top:726px;width:49px;height:25px;border:2px solid #d8d8d8;background:#c280d2;box-shadow:inset 0 0 0 1px #555"></div>
<div class="a" style="left:1504px;top:756px;width:82px;height:36px;background:#44b8b0;border-radius:4px;color:#fff;font-size:16px;font-weight:bold;text-align:center;line-height:36px">Apply</div>
<div class="a" style="left:1594px;top:756px;width:81px;height:36px;background:#44b8b0;border-radius:4px;color:#fff;font-size:15px;font-weight:bold;text-align:center;line-height:36px">Reset</div>

<svg class="a" style="left:0;top:0" width="1835" height="880">
<line x1="1634.5" y1="371" x2="1659" y2="279" stroke="#e8111a" stroke-width="5"/>
<polygon points="1668.5,256 1648.5,277 1676,282" fill="#e8111a"/>
</svg>
</body></html>
